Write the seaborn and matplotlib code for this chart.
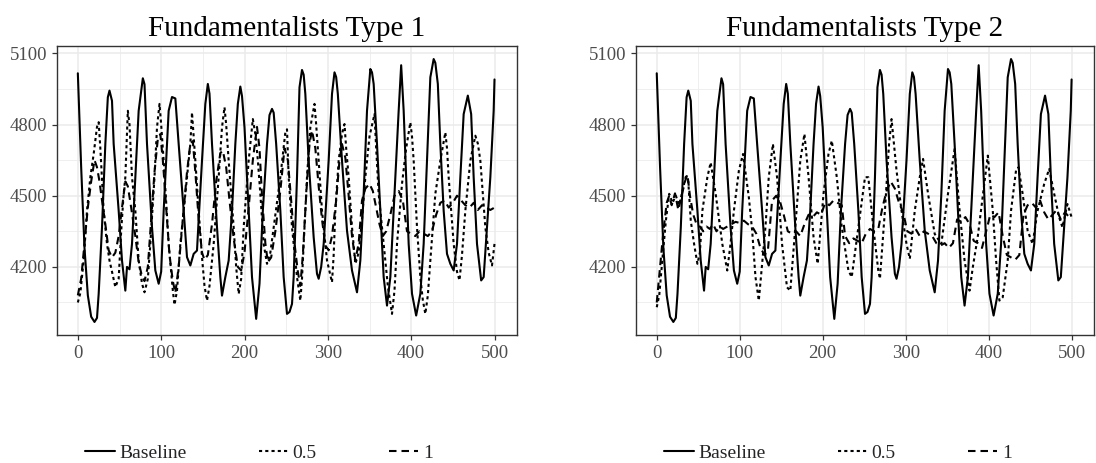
import matplotlib
matplotlib.use("Agg")
import matplotlib.pyplot as plt
import pandas as pd
import seaborn as sns
from matplotlib.lines import Line2D

# ---------------- data ----------------
titles = ["Fundamentalists Type 1", "Fundamentalists Type 2"]
series_names = ["Baseline", "0.5", "1"]
x_ticks = [0, 100, 200, 300, 400, 500]
y_ticks = [4200, 4500, 4800, 5100]

baseline_t = [0, 4, 8, 12, 16, 20, 23, 25, 27, 29, 33, 36, 38, 41, 43, 49, 53, 57, 59, 62, 65, 69, 73, 78, 80, 83,
              89, 93, 97, 100, 103, 109, 113, 117, 121, 127, 131, 135, 139, 143, 145, 149, 153, 156, 158, 161, 167,
              171, 173, 177, 181, 185, 189, 192, 195, 197, 200, 204, 209, 214, 218, 222, 227, 230, 233, 235, 238,
              243, 247, 251, 254, 257, 259, 263, 266, 269, 271, 273, 277, 283, 287, 289, 292, 295, 301, 305, 308,
              310, 312, 317, 323, 329, 335, 339, 343, 347, 351, 353, 355, 359, 363, 367, 371, 375, 379, 385, 388,
              391, 394, 397, 401, 406, 411, 415, 419, 423, 427, 429, 432, 435, 439, 443, 447, 451, 455, 459, 463,
              468, 472, 475, 479, 484, 487, 491, 495, 499, 500]
baseline_v = [5016, 4620, 4280, 4080, 3990, 3968, 3985, 4086, 4227, 4367, 4718, 4915, 4943, 4900, 4718, 4437, 4227,
              4100, 4200, 4190, 4297, 4578, 4858, 4995, 4970, 4718, 4367, 4185, 4129, 4180, 4437, 4858, 4916, 4910,
              4718, 4437, 4241, 4206, 4255, 4269, 4400, 4648, 4887, 4971, 4930, 4718, 4367, 4157, 4079, 4157, 4227,
              4437, 4718, 4887, 4960, 4920, 4788, 4508, 4157, 3981, 4129, 4437, 4718, 4840, 4866, 4850, 4718, 4437,
              4157, 4002, 4010, 4044, 4157, 4578, 4957, 5030, 5010, 4929, 4648, 4325, 4171, 4150, 4200, 4297, 4648,
              4929, 5020, 5000, 4929, 4648, 4353, 4185, 4093, 4227, 4508, 4858, 5034, 5020, 4971, 4718, 4437, 4157,
              4037, 4157, 4437, 4858, 5050, 4858, 4578, 4297, 4087, 3995, 4087, 4297, 4648, 4999, 5076, 5060, 4971,
              4718, 4437, 4255, 4213, 4185, 4297, 4578, 4844, 4922, 4844, 4578, 4297, 4143, 4157, 4367, 4578, 4858,
              4990]

type1_half_t = [0, 3, 7, 11, 15, 19, 23, 25, 27, 31, 35, 38, 41, 45, 49, 52, 55, 57, 60, 62, 65, 69, 73, 77, 80,
                84, 87, 92, 95, 98, 100, 103, 109, 114, 116, 119, 123, 129, 135, 137, 139, 141, 145, 149, 152, 155,
                158, 163, 169, 173, 176, 178, 181, 187, 190, 193, 196, 199, 205, 210, 213, 216, 219, 223, 227, 231,
                235, 243, 249, 251, 253, 257, 263, 267, 269, 271, 275, 279, 284, 286, 289, 293, 299, 305, 307, 309,
                313, 317, 320, 322, 325, 329, 333, 337, 341, 345, 350, 356, 358, 361, 367, 372, 377, 380, 383, 389,
                394, 399, 401, 403, 407, 411, 414, 417, 420, 423, 429, 435, 441, 443, 445, 451, 455, 458, 461, 465,
                471, 477, 480, 483, 489, 493, 497, 500]
type1_half_v = [4050, 4090, 4227, 4437, 4578, 4676, 4790, 4810, 4700, 4437, 4297, 4227, 4180, 4115, 4150, 4350,
                4508, 4578, 4858, 4800, 4578, 4437, 4227, 4130, 4093, 4150, 4297, 4578, 4788, 4887, 4800, 4648,
                4297, 4100, 4040, 4100, 4297, 4508, 4718, 4851, 4750, 4648, 4437, 4241, 4120, 4058, 4120, 4297,
                4578, 4788, 4873, 4800, 4648, 4367, 4200, 4086, 4150, 4367, 4648, 4823, 4760, 4650, 4508, 4297,
                4213, 4260, 4367, 4578, 4767, 4780, 4578, 4367, 4157, 4058, 4150, 4297, 4578, 4788, 4887, 4800,
                4648, 4437, 4227, 4135, 4250, 4437, 4648, 4760, 4802, 4700, 4578, 4367, 4213, 4260, 4400, 4578,
                4750, 4844, 4700, 4508, 4297, 4120, 4002, 4100, 4297, 4550, 4700, 4809, 4750, 4648, 4367, 4157,
                4060, 4002, 4080, 4227, 4508, 4648, 4767, 4700, 4578, 4297, 4180, 4143, 4250, 4437, 4648, 4753,
                4720, 4648, 4367, 4260, 4206, 4297]

type1_one_t = [0, 4, 8, 12, 16, 20, 23, 26, 29, 33, 37, 41, 45, 49, 53, 57, 60, 64, 69, 73, 77, 80, 84, 88, 92, 96,
               99, 102, 106, 110, 114, 117, 121, 126, 131, 135, 138, 141, 145, 149, 152, 156, 161, 166, 171, 174,
               178, 182, 187, 192, 196, 200, 205, 210, 215, 218, 221, 225, 228, 232, 237, 243, 248, 252, 256, 260,
               264, 267, 270, 274, 278, 281, 285, 289, 293, 297, 301, 305, 310, 314, 317, 321, 325, 329, 333, 337,
               341, 345, 350, 354, 358, 362, 366, 370, 375, 380, 385, 390, 395, 400, 405, 410, 415, 420, 425, 430,
               435, 440, 445, 450, 455, 460, 465, 470, 475, 480, 485, 490, 495, 500]
type1_one_v = [4080, 4150, 4300, 4450, 4560, 4650, 4620, 4560, 4480, 4380, 4270, 4240, 4260, 4330, 4450, 4560,
               4540, 4450, 4330, 4220, 4160, 4140, 4200, 4400, 4600, 4740, 4760, 4650, 4450, 4250, 4140, 4090,
               4200, 4400, 4600, 4720, 4730, 4600, 4400, 4260, 4230, 4250, 4380, 4560, 4680, 4690, 4620, 4480,
               4320, 4200, 4185, 4260, 4450, 4650, 4790, 4700, 4500, 4300, 4220, 4240, 4350, 4520, 4700, 4650,
               4480, 4300, 4180, 4120, 4250, 4500, 4720, 4775, 4700, 4540, 4400, 4290, 4270, 4330, 4480, 4650,
               4718, 4660, 4500, 4330, 4227, 4300, 4480, 4530, 4550, 4520, 4450, 4380, 4330, 4350, 4420, 4500,
               4520, 4480, 4350, 4340, 4330, 4350, 4340, 4330, 4350, 4420, 4470, 4480, 4450, 4470, 4500, 4480,
               4460, 4450, 4470, 4440, 4460, 4450, 4440, 4450]

type2_half_t = [0, 3, 7, 11, 15, 19, 23, 27, 31, 35, 38, 41, 45, 49, 52, 55, 61, 65, 71, 79, 85, 89, 93, 99, 104,
                111, 115, 119, 123, 131, 135, 140, 145, 151, 157, 161, 167, 173, 178, 183, 189, 194, 201, 207, 211,
                217, 223, 231, 235, 243, 251, 255, 261, 267, 269, 275, 280, 283, 289, 295, 301, 305, 311, 317, 321,
                327, 335, 343, 351, 359, 365, 371, 377, 381, 387, 393, 399, 405, 409, 413, 417, 423, 427, 433, 436,
                441, 447, 453, 459, 467, 473, 479, 485, 489, 495, 500]
type2_half_v = [4030, 4080, 4240, 4395, 4508, 4470, 4500, 4460, 4520, 4580, 4560, 4395, 4297, 4213, 4260, 4437,
                4578, 4640, 4508, 4297, 4185, 4300, 4437, 4606, 4676, 4493, 4353, 4157, 4058, 4367, 4578, 4718,
                4578, 4297, 4114, 4100, 4367, 4648, 4760, 4578, 4325, 4213, 4508, 4676, 4732, 4578, 4367, 4185,
                4157, 4367, 4578, 4578, 4367, 4185, 4150, 4437, 4718, 4823, 4606, 4437, 4297, 4234, 4437, 4578,
                4655, 4508, 4339, 4297, 4508, 4697, 4437, 4227, 4100, 4200, 4330, 4500, 4669, 4437, 4227, 4058,
                4072, 4227, 4437, 4606, 4620, 4508, 4353, 4297, 4437, 4550, 4613, 4508, 4409, 4367, 4465, 4409]

type2_one_t = [0, 4, 8, 12, 15, 18, 22, 26, 30, 34, 37, 40, 44, 48, 52, 56, 60, 64, 68, 72, 76, 80, 85, 90, 95,
               100, 105, 110, 115, 120, 125, 130, 134, 139, 144, 149, 153, 158, 163, 168, 173, 178, 183, 188, 193,
               198, 203, 208, 213, 218, 223, 227, 232, 237, 242, 247, 252, 257, 262, 267, 272, 277, 282, 287, 292,
               297, 302, 307, 312, 317, 322, 327, 332, 337, 342, 347, 352, 357, 362, 367, 372, 377, 382, 387, 392,
               397, 402, 407, 412, 417, 422, 427, 432, 437, 442, 447, 452, 457, 462, 467, 472, 477, 482, 487, 492,
               497, 500]
type2_one_v = [4050, 4200, 4350, 4470, 4500, 4460, 4510, 4440, 4500, 4560, 4590, 4500, 4420, 4380, 4370, 4350,
               4370, 4360, 4380, 4350, 4370, 4360, 4370, 4380, 4390, 4385, 4395, 4380, 4370, 4340, 4280, 4250,
               4270, 4480, 4500, 4470, 4420, 4350, 4340, 4350, 4330, 4380, 4420, 4410, 4430, 4420, 4470, 4460,
               4480, 4470, 4460, 4330, 4300, 4320, 4310, 4300, 4340, 4360, 4350, 4360, 4450, 4520, 4560, 4530,
               4470, 4430, 4350, 4340, 4360, 4330, 4350, 4340, 4330, 4300, 4290, 4300, 4280, 4300, 4400, 4390,
               4410, 4380, 4310, 4300, 4280, 4350, 4420, 4410, 4430, 4330, 4250, 4240, 4230, 4250, 4420, 4460,
               4470, 4450, 4480, 4430, 4400, 4420, 4440, 4400, 4430, 4410, 4420]

panels = [
    {"Baseline": (baseline_t, baseline_v), "0.5": (type1_half_t, type1_half_v), "1": (type1_one_t, type1_one_v)},
    {"Baseline": (baseline_t, baseline_v), "0.5": (type2_half_t, type2_half_v), "1": (type2_one_t, type2_one_v)},
]

# ---------------- styling ----------------
sns.set_style("white")
plt.rcParams["font.family"] = ["Liberation Serif", "DejaVu Serif"]

W, H = 1096, 463
fig = plt.figure(figsize=(W / 100, H / 100), dpi=100)

boxes = [(57, 46, 517, 335), (636, 46, 1094, 335)]
legend_cx = [259, 838]
dash_map = {"Baseline": "", "0.5": (1.5, 1.5), "1": (3.6, 2.4)}
LW = 1.5

for i, (l, t, r, b) in enumerate(boxes):
    ax = fig.add_axes([l / W, 1 - b / H, (r - l) / W, (b - t) / H])
    frames = []
    for name in series_names:
        ts, vs = panels[i][name]
        frames.append(pd.DataFrame({"t": ts, "value": vs, "series": name}))
    df = pd.concat(frames, ignore_index=True)
    sns.lineplot(data=df, x="t", y="value", style="series", style_order=series_names,
                 dashes=dash_map, color="black", linewidth=LW, estimator=None,
                 legend=False, ax=ax)

    ax.set_xlim(-25, 527)
    ax.set_ylim(3913, 5131)
    ax.set_xticks(x_ticks)
    ax.set_yticks(y_ticks)
    ax.set_xticks([50, 150, 250, 350, 450], minor=True)
    ax.set_yticks([4050, 4350, 4650, 4950], minor=True)
    ax.grid(True, which="major", color="#EBEBEB", linewidth=1.1, zorder=0)
    ax.grid(True, which="minor", color="#EBEBEB", linewidth=0.55, zorder=0)
    ax.set_axisbelow(True)
    ax.set_xlabel("")
    ax.set_ylabel("")
    for sp in ax.spines.values():
        sp.set_color("#333333")
        sp.set_linewidth(1.0)
    ax.tick_params(which="major", length=3.4, width=0.9, color="#333333",
                   labelsize=13.5, labelcolor="#4D4D4D", pad=3.6,
                   left=True, bottom=True)
    ax.tick_params(which="minor", length=0)
    ax.set_title(titles[i], fontsize=21, pad=7, color="black")

    handles = [Line2D([0], [0], color="black", linewidth=LW,
                      linestyle="-" if dash_map[n] == "" else (0, dash_map[n]))
               for n in series_names]
    fig.legend(handles, series_names, loc="center",
               bbox_to_anchor=(legend_cx[i] / W, 1 - 453 / H), ncol=3, frameon=False,
               fontsize=14, handlelength=1.5, handletextpad=0.25, columnspacing=3.7,
               borderpad=0, borderaxespad=0)

fig.savefig("out.png", dpi=100)
